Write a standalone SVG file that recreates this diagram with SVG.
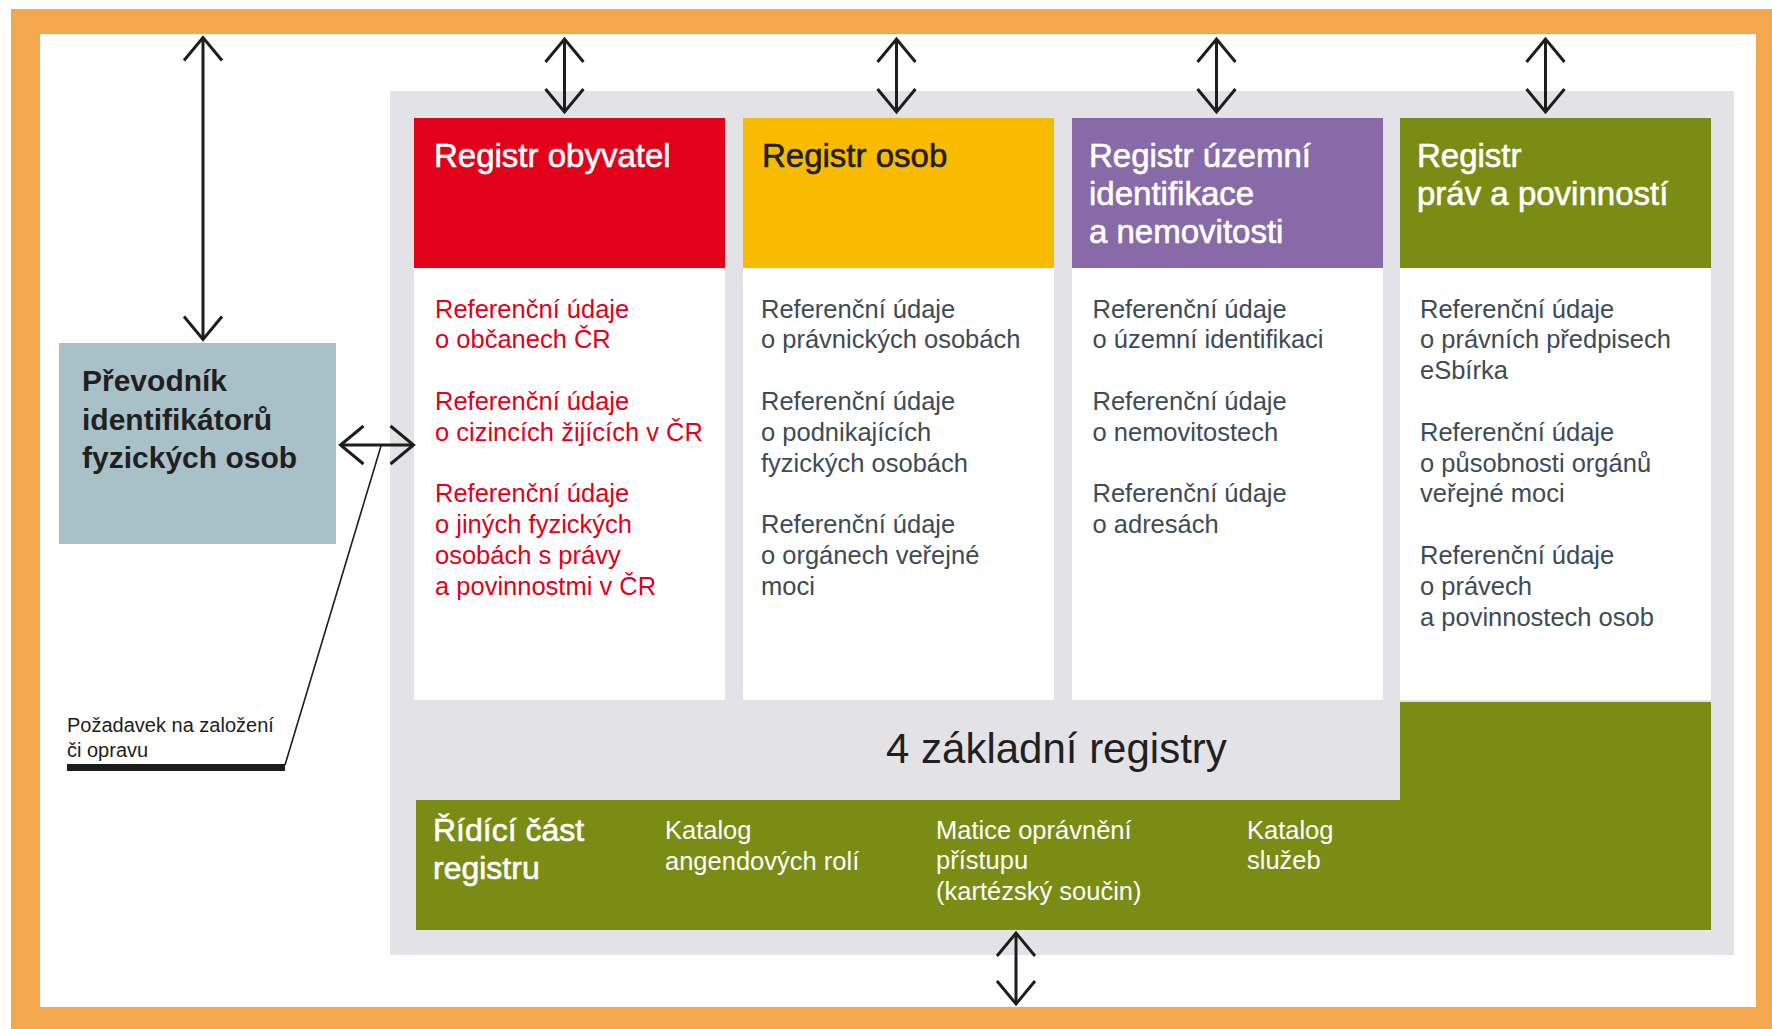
<svg xmlns="http://www.w3.org/2000/svg" width="1772" height="1029" viewBox="0 0 1772 1029">
<style>
  text { font-family: "Liberation Sans", Arial, sans-serif; }
  .hdr { font-size: 33px; fill: #ffffff; stroke: #ffffff; stroke-width: 0.6px; }
  .hdr-dark { font-size: 33px; fill: #231f20; stroke: #231f20; stroke-width: 0.6px; }
  .body { font-size: 25.5px; fill: #3d4b55; }
  .body-red { font-size: 25.5px; fill: #e2001a; }
  .band { font-size: 25.5px; fill: #ffffff; }
  .band-title { font-size: 32px; fill: #ffffff; stroke: #ffffff; stroke-width: 0.6px; }
  .conn { fill: none; stroke: #1d1d1b; stroke-width: 3; marker-start: url(#ah); marker-end: url(#ah); }
</style>
<defs>
  <marker id="ah" viewBox="-28 -22 32 44" refX="0" refY="0" markerWidth="32" markerHeight="44" markerUnits="userSpaceOnUse" orient="auto-start-reverse">
    <path d="M-23,-19 L0,0 L-23,19" fill="none" stroke="#1d1d1b" stroke-width="3"/>
  </marker>
</defs>

<!-- frame -->
<rect x="11" y="9" width="1761" height="1020" fill="#f5a84b"/>
<rect x="40" y="34" width="1716" height="973" fill="#ffffff"/>

<!-- main panel -->
<g id="panel">
  <rect x="390" y="91" width="1344" height="864" fill="#e3e2e7"/>
  <text x="886" y="763" font-size="42" fill="#231f20">4 základní registry</text>
</g>

<g id="registr-obyvatel">
  <rect x="414" y="118" width="311" height="150" fill="#e2001a"/>
  <rect x="414" y="268" width="311" height="432" fill="#ffffff"/>
  <text class="hdr" x="434" y="167">Registr obyvatel</text>
  <text class="body-red" x="435" y="317.5">Referenční údaje</text>
  <text class="body-red" x="435" y="348.3">o občanech ČR</text>
  <text class="body-red" x="435" y="409.9">Referenční údaje</text>
  <text class="body-red" x="435" y="440.7">o cizincích žijících v ČR</text>
  <text class="body-red" x="435" y="502.3">Referenční údaje</text>
  <text class="body-red" x="435" y="533.1">o jiných fyzických</text>
  <text class="body-red" x="435" y="563.9">osobách s právy</text>
  <text class="body-red" x="435" y="594.7">a povinnostmi v ČR</text>
</g>

<g id="registr-osob">
  <rect x="743" y="118" width="311" height="150" fill="#f8bb00"/>
  <rect x="743" y="268" width="311" height="432" fill="#ffffff"/>
  <text class="hdr-dark" x="762" y="167">Registr osob</text>
  <text class="body" x="761" y="317.5">Referenční údaje</text>
  <text class="body" x="761" y="348.3">o právnických osobách</text>
  <text class="body" x="761" y="409.9">Referenční údaje</text>
  <text class="body" x="761" y="440.7">o podnikajících</text>
  <text class="body" x="761" y="471.5">fyzických osobách</text>
  <text class="body" x="761" y="533.1">Referenční údaje</text>
  <text class="body" x="761" y="563.9">o orgánech veřejné</text>
  <text class="body" x="761" y="594.7">moci</text>
</g>

<g id="registr-uzemni">
  <rect x="1072" y="118" width="311" height="150" fill="#876aa7"/>
  <rect x="1072" y="268" width="311" height="432" fill="#ffffff"/>
  <text class="hdr" x="1089" y="167">Registr územní</text>
  <text class="hdr" x="1089" y="205">identifikace</text>
  <text class="hdr" x="1089" y="243">a nemovitosti</text>
  <text class="body" x="1092.5" y="317.5">Referenční údaje</text>
  <text class="body" x="1092.5" y="348.3">o územní identifikaci</text>
  <text class="body" x="1092.5" y="409.9">Referenční údaje</text>
  <text class="body" x="1092.5" y="440.7">o nemovitostech</text>
  <text class="body" x="1092.5" y="502.3">Referenční údaje</text>
  <text class="body" x="1092.5" y="533.1">o adresách</text>
</g>

<g id="registr-prav">
  <rect x="1400" y="118" width="311" height="150" fill="#7a8c13"/>
  <rect x="1400" y="268" width="311" height="432" fill="#ffffff"/>
  <text class="hdr" x="1417" y="167">Registr</text>
  <text class="hdr" x="1417" y="205">práv a povinností</text>
  <text class="body" x="1420" y="317.5">Referenční údaje</text>
  <text class="body" x="1420" y="348.3">o právních předpisech</text>
  <text class="body" x="1420" y="379.1">eSbírka</text>
  <text class="body" x="1420" y="440.7">Referenční údaje</text>
  <text class="body" x="1420" y="471.5">o působnosti orgánů</text>
  <text class="body" x="1420" y="502.3">veřejné moci</text>
  <text class="body" x="1420" y="563.9">Referenční údaje</text>
  <text class="body" x="1420" y="594.7">o právech</text>
  <text class="body" x="1420" y="625.5">a povinnostech osob</text>
</g>

<g id="ridici-cast">
  <path d="M416,800 H1400 V702 H1711 V930 H416 Z" fill="#7a8c13"/>
  <text class="band-title" x="433" y="841">Řídící část</text>
  <text class="band-title" x="433" y="879">registru</text>
  <text class="band" x="665" y="839">Katalog</text>
  <text class="band" x="665" y="869.5">angendových rolí</text>
  <text class="band" x="936" y="838.5">Matice oprávnění</text>
  <text class="band" x="936" y="869">přístupu</text>
  <text class="band" x="936" y="899.5">(kartézský součin)</text>
  <text class="band" x="1247" y="838.5">Katalog</text>
  <text class="band" x="1247" y="869">služeb</text>
</g>

<g id="prevodnik">
  <rect x="59" y="343" width="277" height="201" fill="#a8c1c8"/>
  <text x="82" y="391" font-size="30" font-weight="bold" fill="#231f20">Převodník</text>
  <text x="82" y="429.5" font-size="30" font-weight="bold" fill="#231f20">identifikátorů</text>
  <text x="82" y="468" font-size="30" font-weight="bold" fill="#231f20">fyzických osob</text>
</g>

<g id="pozadavek">
  <rect x="67" y="764" width="218" height="7" fill="#1d1d1b"/>
  <text x="67" y="732" font-size="20" fill="#1d1d1b">Požadavek na založení</text>
  <text x="67" y="757" font-size="20" fill="#1d1d1b">či opravu</text>
</g>

<g id="connectors">
  <line class="conn" x1="203" y1="37.5" x2="203" y2="339.5"/>
  <line class="conn" x1="564.5" y1="39" x2="564.5" y2="112"/>
  <line class="conn" x1="896.5" y1="39" x2="896.5" y2="112"/>
  <line class="conn" x1="1216.5" y1="39" x2="1216.5" y2="112"/>
  <line class="conn" x1="1545.5" y1="39" x2="1545.5" y2="112"/>
  <line class="conn" x1="340.5" y1="445" x2="413.5" y2="445"/>
  <line class="conn" x1="1016" y1="933" x2="1016" y2="1004"/>
  <line x1="381" y1="446" x2="285" y2="765" stroke="#1d1d1b" stroke-width="1.6"/>
</g>
</svg>
